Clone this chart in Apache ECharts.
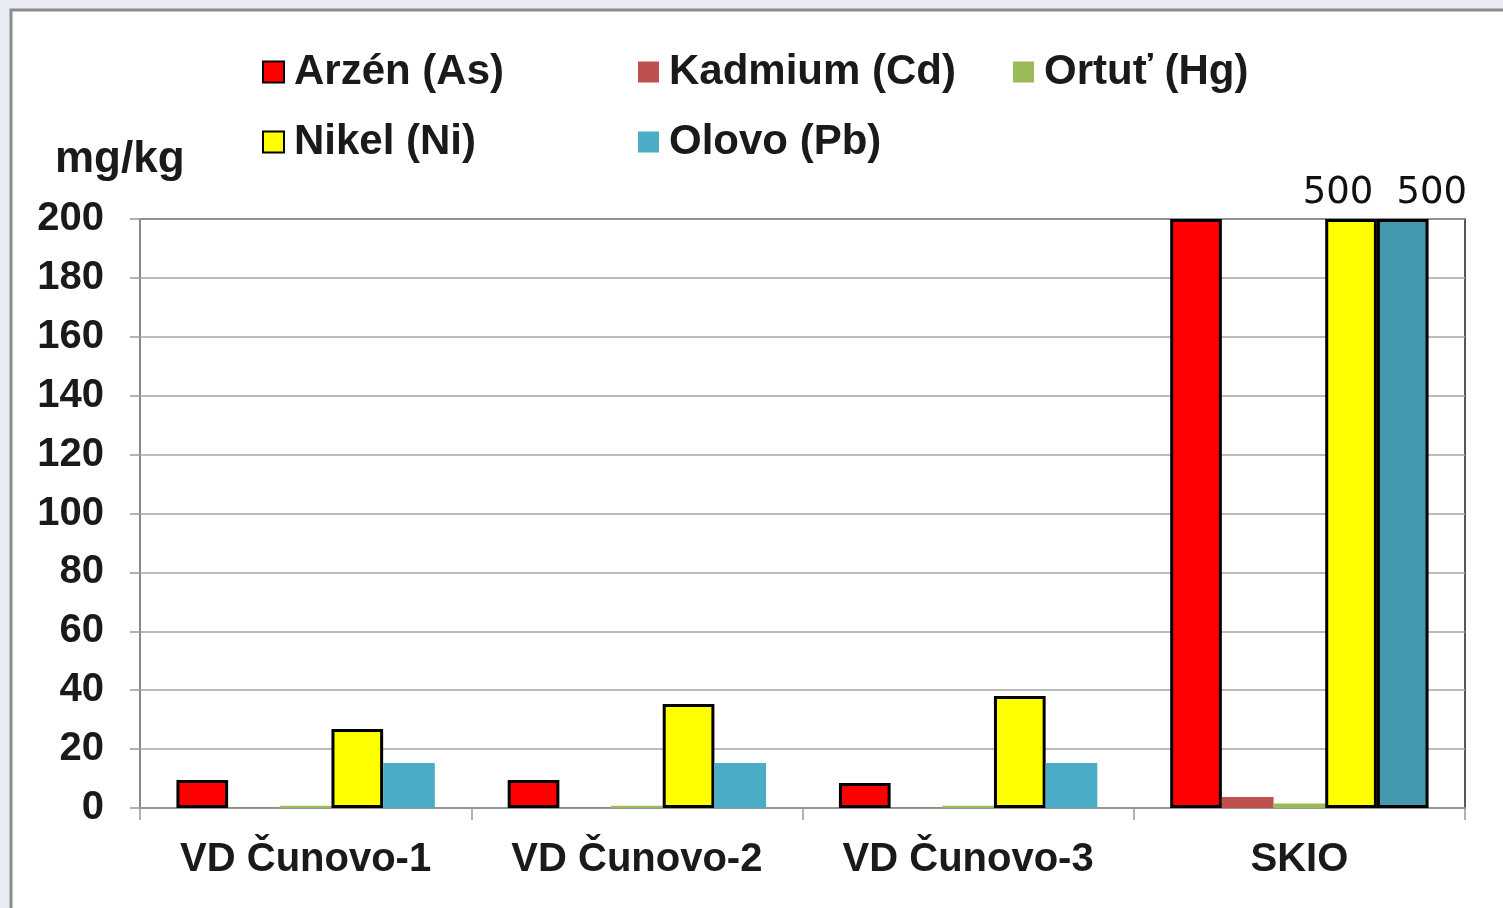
<!DOCTYPE html>
<html>
<head>
<meta charset="utf-8">
<script src="https://cdn.jsdelivr.net/npm/echarts@6/dist/echarts.min.js"></script>
<style>
  html, body { margin: 0; padding: 0; background: #e9edf3; }
  #main { width: 1503px; height: 908px; }
</style>
</head>
<body>
<div id="main"></div>
<script>
// data
var categories = ['VD Čunovo-1', 'VD Čunovo-2', 'VD Čunovo-3', 'SKIO'];
var arzen = [9.5, 9.5, 8.5, 200];
var kadmium = [0.1, 0.1, 0.1, 3.7];
var ortut = [0.8, 0.8, 0.8, 1.5];
var nikel = [26.8, 35.3, 38, 500];
var olovo = [15.3, 15.3, 15.3, 500];
var yTicks = [0, 20, 40, 60, 80, 100, 120, 140, 160, 180, 200];

var yMax = 200;
var font = 'Liberation Sans, Arial, sans-serif';

// values above the axis max are drawn cut off at the top, with their value written above
function capped(values, labelOffset) {
  return values.map(function (v, i) {
    var item = { value: Math.min(v, yMax), raw: v };
    if (v > yMax) {
      item.label = {
        show: true, position: 'top', distance: 7, offset: labelOffset,
        formatter: String(v), fontFamily: 'DejaVu Sans', fontSize: 37, color: '#111'
      };
    }
    return item;
  });
}

var chart = echarts.init(document.getElementById('main'));

var border = { borderColor: '#000', borderWidth: 3 };

function legendAt(name, left, top) {
  return {
    data: [name], left: left, top: top, icon: 'rect', padding: 0,
    itemWidth: 21, itemHeight: 21, selectedMode: false,
    textStyle: { fontFamily: font, fontWeight: 'bold', fontSize: 42, color: '#1a1a1a', padding: [0, 0, 0, 5] }
  };
}

var olovoData = capped(olovo, [29, 0]);
olovoData[3].itemStyle = { color: '#4398ae', borderColor: '#000', borderWidth: 3 };

var option = {
  backgroundColor: '#e9edf3',
  animation: false,
  graphic: [{
    type: 'rect', z: -10,
    shape: { x: 11, y: 10, width: 1500, height: 905 },
    style: { fill: '#fff', stroke: '#8c8c8c', lineWidth: 3 }
  }, {
    type: 'text', left: 55, top: 138,
    style: { text: 'mg/kg', font: 'bold 44px Liberation Sans', fill: '#1a1a1a' }
  }],
  legend: [
    legendAt('Arzén (As)', 262, 51),
    legendAt('Kadmium (Cd)', 638, 51),
    legendAt('Ortuť (Hg)', 1013, 51),
    legendAt('Nikel (Ni)', 262, 121),
    legendAt('Olovo (Pb)', 638, 121)
  ],
  grid: {
    left: 140, right: 38, top: 219, bottom: 100,
    show: true, borderColor: '#222', borderWidth: 1.5, backgroundColor: 'transparent'
  },
  xAxis: {
    type: 'category',
    data: categories,
    axisLine: { lineStyle: { color: '#999', width: 1.5 } },
    axisTick: { show: true, interval: 0, length: 12, lineStyle: { color: '#999', width: 1.5 } },
    axisLabel: { interval: 0, hideOverlap: false, fontFamily: font, fontWeight: 'bold', fontSize: 40, color: '#1a1a1a', margin: 32 }
  },
  yAxis: {
    type: 'value',
    min: yTicks[0], max: yTicks[yTicks.length - 1], interval: 20,
    axisLine: { show: true, lineStyle: { color: '#999', width: 1.5 } },
    axisTick: { show: true, length: 10, lineStyle: { color: '#999', width: 1.5 } },
    splitLine: { lineStyle: { color: '#a6a6a6', width: 1.5 } },
    axisLabel: { fontFamily: font, fontWeight: 'bold', fontSize: 40, color: '#1a1a1a', margin: 36 }
  },
  series: [
    { name: 'Arzén (As)', type: 'bar', barGap: '0%', barCategoryGap: '22%',
      data: capped(arzen, [0, 0]), itemStyle: Object.assign({ color: '#ff0000' }, border) },
    { name: 'Kadmium (Cd)', type: 'bar', data: capped(kadmium, [0, 0]), itemStyle: { color: '#c0504d' } },
    { name: 'Ortuť (Hg)', type: 'bar', data: capped(ortut, [0, 0]), itemStyle: { color: '#9bbb59' } },
    { name: 'Nikel (Ni)', type: 'bar', data: capped(nikel, [-13, 0]),
      itemStyle: Object.assign({ color: '#ffff00' }, border) },
    { name: 'Olovo (Pb)', type: 'bar', data: olovoData, itemStyle: { color: '#4bacc6' } }
  ]
};

chart.setOption(option);
</script>
</body>
</html>
